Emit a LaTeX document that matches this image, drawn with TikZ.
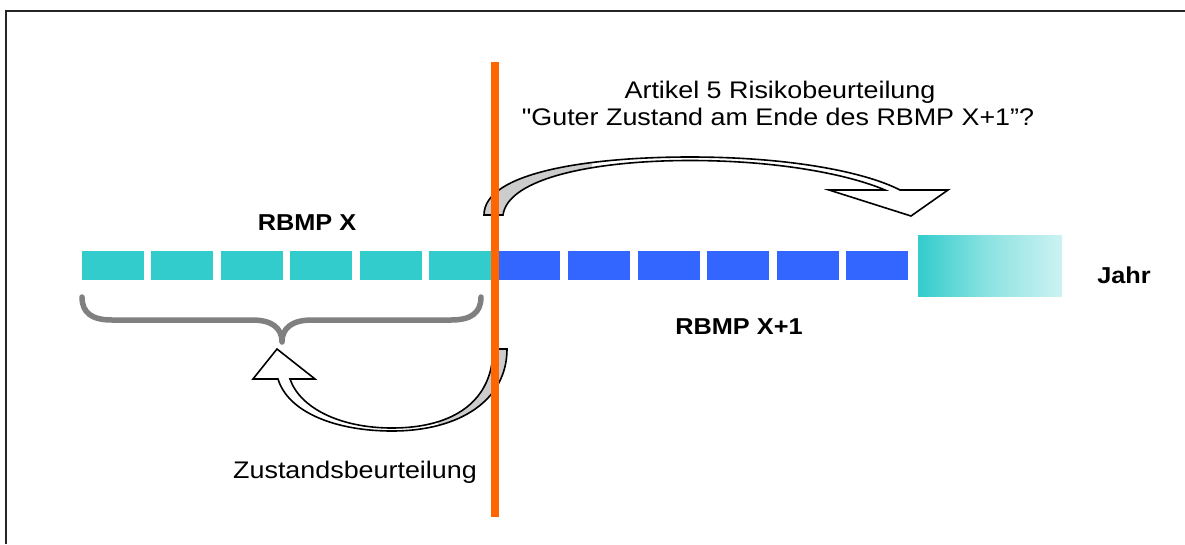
\documentclass[tikz,border=0pt]{standalone}
\usepackage{fontspec}
\setmainfont{Liberation Sans}[Ligatures=TeXOff]
\definecolor{segcyan}{HTML}{33CCCC}
\definecolor{segblue}{HTML}{3366FF}
\definecolor{fadecyan}{HTML}{CCF2F2}
\definecolor{cutline}{HTML}{FF6600}
\definecolor{bracegray}{HTML}{808080}
\definecolor{backgray}{HTML}{CCCCCC}
\begin{document}
\begin{tikzpicture}[x=1pt,y=-1pt,
  lbl/.style={font=\fontsize{24}{28}\selectfont, xscale=1.12, transform shape, inner sep=0pt, anchor=base},
  boldlbl/.style={font=\fontsize{23}{27}\selectfont\bfseries, xscale=1.1, transform shape, inner sep=0pt, anchor=base},
  ribbonline/.style={draw=black, line width=1.6pt, line join=miter},
  cyanseg/.style={fill=segcyan},
  blueseg/.style={fill=segblue},
]
\useasboundingbox (0,0) rectangle (1185,544);

% frame
\draw[line width=2pt, black!85] (6,544) -- (6,11) -- (1185,11);

% time line: RBMP X (cyan) and RBMP X+1 (blue)
\foreach \x in {82,151,221,290,360} {
  \fill[cyanseg] (\x,251) rectangle ++(62,29);
}
\fill[cyanseg] (429,251) rectangle (494,280);
\fill[blueseg] (494,251) rectangle (560,280);
\foreach \x in {568,638,707,777,846} {
  \fill[blueseg] (\x,251) rectangle ++(62,29);
}
% fading year block
\shade[left color=segcyan, right color=fadecyan, middle color=segcyan!40!fadecyan]
  (918,235) rectangle (1062,296);

% brace under RBMP X
\draw[bracegray, line width=5.5pt, line cap=round, line join=round]
  (82,297) .. controls (82,313) and (92,320) .. (112,320) -- (252,320)
  .. controls (272,320) and (282,328) .. (282,342)
  .. controls (282,328) and (292,320) .. (312,320) -- (451,320)
  .. controls (471,320) and (481,313) .. (481,297);

% upper curved arrow (risk assessment)
\path[fill=white]
  (484,215) .. controls (484,172) and (590,157) .. (690,157)
  .. controls (790,157) and (865,172) .. (900,190)
  -- (948,190) -- (911,216) -- (829,190) -- (885,190)
  .. controls (850,175) and (780,160.5) .. (690,160.5)
  .. controls (595,160.5) and (508,178) .. (503,215) -- cycle;
\begin{scope}
  \clip (470,140) rectangle (592,222);
  \fill[backgray]
    (484,215) .. controls (484,172) and (590,157) .. (690,157)
    -- (690,160.5)
    .. controls (595,160.5) and (508,178) .. (503,215) -- cycle;
\end{scope}
\path[ribbonline]
  (484,215) .. controls (484,172) and (590,157) .. (690,157)
  .. controls (790,157) and (865,172) .. (900,190)
  -- (948,190) -- (911,216) -- (829,190) -- (885,190)
  .. controls (850,175) and (780,160.5) .. (690,160.5)
  .. controls (595,160.5) and (508,178) .. (503,215) -- cycle;

% lower curved arrow (status assessment)
\path[fill=white]
  (493,349) -- (507,349) .. controls (507,400) and (460,431) .. (392,431)
  .. controls (335,431) and (288,412) .. (278,379)
  -- (253,379) -- (277,349) -- (315,379) -- (290,379)
  .. controls (300,408) and (340,428) .. (392,428)
  .. controls (455,428) and (493,400) .. (493,349) -- cycle;
\begin{scope}
  \clip (438,340) rectangle (515,440);
  \fill[backgray]
    (493,349) -- (507,349) .. controls (507,400) and (460,431) .. (392,431)
    -- (392,428)
    .. controls (455,428) and (493,400) .. (493,349) -- cycle;
\end{scope}
\path[ribbonline]
  (493,349) -- (507,349) .. controls (507,400) and (460,431) .. (392,431)
  .. controls (335,431) and (288,412) .. (278,379)
  -- (253,379) -- (277,349) -- (315,379) -- (290,379)
  .. controls (300,408) and (340,428) .. (392,428)
  .. controls (455,428) and (493,400) .. (493,349) -- cycle;

% cut-off line between the two plans
\fill[cutline] (491,62) rectangle (499,517);

% labels
\node[lbl] (art) at (780,98) {Artikel 5 Risikobeurteilung};
\node[lbl] (guter) at (778,125) {"Guter Zustand am Ende des RBMP X+1”?};
\node[boldlbl] (rbmpx) at (307,230) {RBMP X};
\node[boldlbl] (rbmpx1) at (739,334) {RBMP X+1};
\node[boldlbl] (jahr) at (1124,283) {Jahr};
\node[lbl] (zust) at (355,478) {Zustandsbeurteilung};
\end{tikzpicture}
\end{document}
